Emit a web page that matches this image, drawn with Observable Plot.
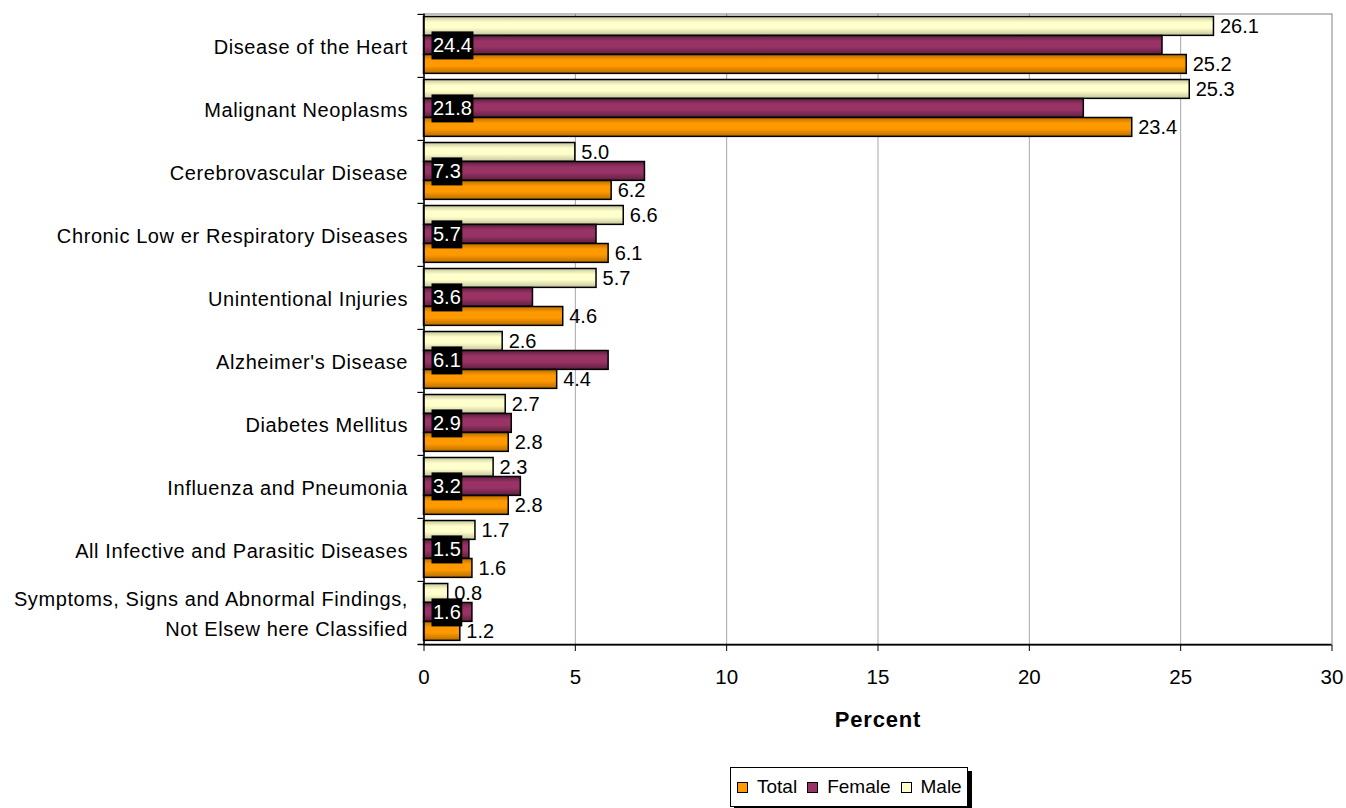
<!DOCTYPE html>
<html><head><meta charset="utf-8">
<script src="https://cdn.jsdelivr.net/npm/d3@7"></script>
<script src="https://cdn.jsdelivr.net/npm/@observablehq/plot@0.6"></script>
<style>
body{margin:0;background:#fff;font-family:"Liberation Sans",Arial,sans-serif;}
#wrap{position:relative;width:1346px;height:808px;overflow:hidden;background:#fff}
#legend{position:absolute;left:730px;top:767px;width:238px;height:40px;border:1px solid #000;box-shadow:4px 4px 0 #000;background:#fff;display:flex;align-items:center;font-size:19px;padding-left:6px;box-sizing:border-box;color:#000}
.item{display:flex;align-items:center;margin-right:10px}
.sw{width:9px;height:9px;border:1px solid #000;margin-right:9px;display:inline-block}
g[aria-label="y-axis tick label"]{letter-spacing:0.6px}
</style>
</head><body>
<div id="wrap"><div id="chart"></div>
<div id="legend">
<span class="item"><span class="sw" style="background:#FF9900"></span>Total</span>
<span class="item"><span class="sw" style="background:#993366"></span>Female</span>
<span class="item"><span class="sw" style="background:#FFFFCC"></span>Male</span>
</div></div>
<script>
const categories = [
  "Disease of the Heart",
  "Malignant Neoplasms",
  "Cerebrovascular Disease",
  "Chronic Low er Respiratory Diseases",
  "Unintentional Injuries",
  "Alzheimer's Disease",
  "Diabetes Mellitus",
  "Influenza and Pneumonia",
  "All Infective and Parasitic Diseases",
  "Symptoms, Signs and Abnormal Findings,\nNot Elsew here Classified"
];
const total  = [25.2, 23.4, 6.2, 6.1, 4.6, 4.4, 2.8, 2.8, 1.6, 1.2];
const female = [24.4, 21.8, 7.3, 5.7, 3.6, 6.1, 2.9, 3.2, 1.5, 1.6];
const male   = [26.1, 25.3, 5.0, 6.6, 5.7, 2.6, 2.7, 2.3, 1.7, 0.8];
const xTicks = [0, 5, 10, 15, 20, 25, 30];
const xLabel = "Percent";

const rows = categories.map((c, i) => ({category: c, total: total[i], female: female[i], male: male[i]}));
const fmt = d3.format(".1f");

const plotTop = 13.5, plotBottom = 645, H = 760;
const BW = (plotBottom - plotTop) / categories.length;
const bh = 19;
const offM = 2.5, offF = 21.5, offT = 40.5;

const chart = Plot.plot({
  width: 1346, height: H,
  marginLeft: 423.5, marginRight: 14.5, marginTop: plotTop, marginBottom: H - plotBottom,
  style: {fontFamily: "'Liberation Sans', Arial, sans-serif", fontSize: "20px", background: "white", color: "#000"},
  x: {domain: [0, 30], label: null},
  y: {domain: categories, padding: 0, label: null},
  marks: [
    Plot.gridX(xTicks.slice(1, -1), {stroke: "#a6a6a6", strokeOpacity: 1}),
    Plot.frame({stroke: "#808080"}),
    Plot.barX(rows, {y: "category", x: "male", fill: "url(#gMale)", stroke: "#000", strokeWidth: 1.5, insetTop: offM, insetBottom: BW - offM - bh}),
    Plot.barX(rows, {y: "category", x: "female", fill: "url(#gFemale)", stroke: "#000", strokeWidth: 1.5, insetTop: offF, insetBottom: BW - offF - bh}),
    Plot.barX(rows, {y: "category", x: "total", fill: "url(#gTotal)", stroke: "#000", strokeWidth: 1.5, insetTop: offT, insetBottom: BW - offT - bh}),
    Plot.ruleX([0], {stroke: "#000", strokeWidth: 1.5}),
    Plot.ruleY(categories, {y: d => d, dy: -BW / 2, x1: -0.2, x2: 0, stroke: "#000", strokeWidth: 1.2}),
    Plot.ruleY([categories[categories.length - 1]], {y: d => d, dy: BW / 2, x1: -0.2, x2: 30, stroke: "#000", strokeWidth: 1.5}),
    Plot.axisX(xTicks, {tickSize: 6, tickPadding: 18, fontSize: 20.5, label: null, stroke: "#000"}),
    Plot.axisY({tickSize: 0, tickPadding: 16, fontSize: 20, lineHeight: 1.5, dy: -1.5, label: null}),
    Plot.text(rows, {y: "category", x: "male", text: d => fmt(d.male), dx: 6, dy: offM + bh / 2 - BW / 2, textAnchor: "start", fill: "#000", fontSize: 20}),
    Plot.text(rows, {y: "category", x: "total", text: d => fmt(d.total), dx: 6, dy: offT + bh / 2 - BW / 2, textAnchor: "start", fill: "#000", fontSize: 20}),
    Plot.text(rows, {y: "category", x: d => 0, text: d => fmt(d.female), dx: 9, dy: 0, textAnchor: "start", fill: "white", fontSize: 20}),
    Plot.text([xLabel], {frameAnchor: "bottom", dy: 81, fontWeight: "bold", fontSize: 22, fill: "#000"})
  ]
});
document.getElementById("chart").appendChild(chart);

// gradients
const svgNS = "http://www.w3.org/2000/svg";
const defs = document.createElementNS(svgNS, "defs");
[["gTotal", "#FF9900", "#B86E00"], ["gFemale", "#993366", "#5E1F3F"], ["gMale", "#FFFFCC", "#C4C49C"]].forEach(([id, c, d]) => {
  const g = document.createElementNS(svgNS, "linearGradient");
  g.setAttribute("id", id); g.setAttribute("x1", "0"); g.setAttribute("y1", "0"); g.setAttribute("x2", "0"); g.setAttribute("y2", "1");
  [[0, d], [0.3, c], [0.6, c], [1, d]].forEach(([o, col]) => {
    const s = document.createElementNS(svgNS, "stop");
    s.setAttribute("offset", o); s.setAttribute("stop-color", col);
    g.appendChild(s);
  });
  defs.appendChild(g);
});
chart.insertBefore(defs, chart.firstChild);

// letter spacing for the axis title
chart.querySelectorAll('g[font-weight="bold"] text').forEach(t => t.setAttribute("letter-spacing", "0.8"));

// black boxes behind female labels
chart.querySelectorAll('g[fill="white"] text').forEach(t => {
  const bb = t.getBBox();
  const r = document.createElementNS(svgNS, "rect");
  const cy = bb.y + bb.height / 2;
  r.setAttribute("x", bb.x - 1.5);
  r.setAttribute("y", cy - 14);
  r.setAttribute("width", bb.width + 3);
  r.setAttribute("height", 28);
  r.setAttribute("fill", "#000");
  if (t.getAttribute("transform")) r.setAttribute("transform", t.getAttribute("transform"));
  t.parentNode.insertBefore(r, t);
});
</script>
</body></html>
